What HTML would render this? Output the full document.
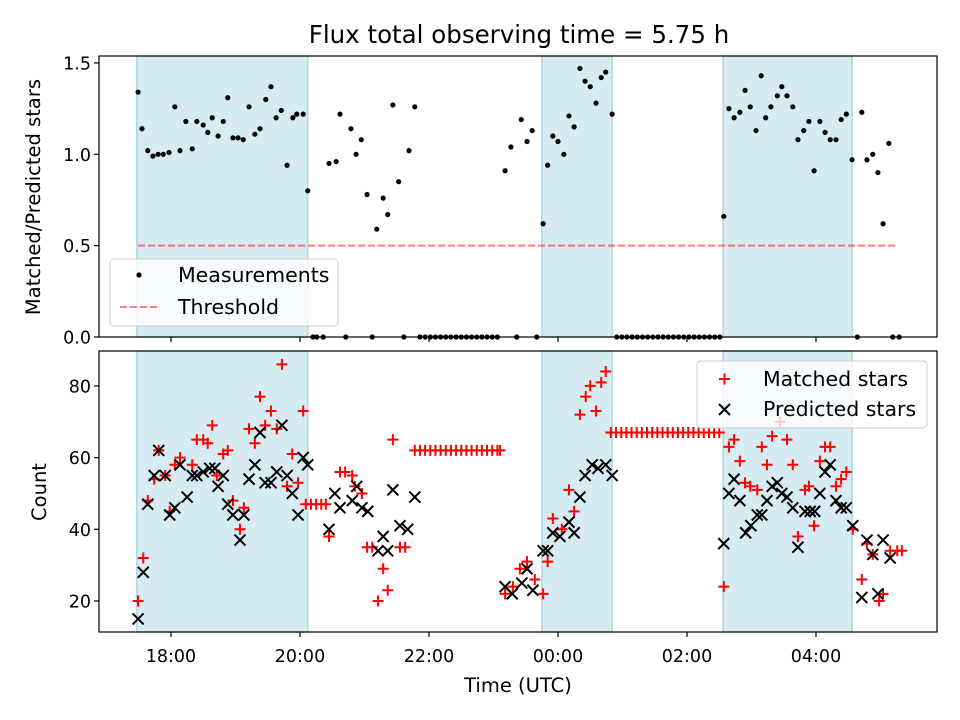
<!DOCTYPE html>
<html><head><meta charset="utf-8"><style>
html,body{margin:0;padding:0;background:#fff;}
svg{display:block;font-family:"DejaVu Sans","Liberation Sans",sans-serif;}
</style></head><body>
<svg id="chart" width="960" height="720" viewBox="0 0 960 720" xmlns="http://www.w3.org/2000/svg">
<rect width="960" height="720" fill="#fff"/>
<text x="519" y="43" font-size="24.5" text-anchor="middle">Flux total observing time = 5.75 h</text>
<g id="topPanel"></g>
<g id="botPanel"></g>
<text transform="translate(40,197) rotate(-90)" font-size="19.5" text-anchor="middle">Matched/Predicted stars</text>
<text transform="translate(46,492) rotate(-90)" font-size="19.5" text-anchor="middle">Count</text>
<text x="518" y="692" font-size="19.5" text-anchor="middle">Time (UTC)</text>
</svg>
<script>
// ---- data (times in hours since 00:00 of first day) ----
const shadeStart = [17.47, 23.75, 26.56];
const shadeEnd = [20.12, 24.84, 28.56];
const measTimes = [17.49,17.55,17.64,17.72,17.80,17.88,17.97,18.06,18.14,18.23,18.33,18.40,18.50,18.57,18.64,18.73,18.81,18.88,18.96,19.04,19.12,19.21,19.30,19.38,19.47,19.55,19.63,19.71,19.80,19.89,19.95,20.05,20.12,
20.45,20.56,20.62,20.79,20.87,20.95,21.04,21.19,21.29,21.36,21.44,21.53,21.69,21.78,
23.18,23.27,23.43,23.52,23.60,23.77,23.84,23.92,24.00,24.09,24.17,24.25,24.34,24.42,24.50,24.59,24.67,24.74,24.84,
26.57,26.65,26.73,26.82,26.90,26.98,27.07,27.15,27.22,27.30,27.40,27.47,27.55,27.64,27.72,27.81,27.89,27.97,28.06,28.14,28.22,28.31,28.39,28.47,28.56,28.71,28.79,28.88,28.96,29.04,29.13];
const measValues = [1.34,1.14,1.02,0.99,1.00,1.00,1.01,1.26,1.02,1.18,1.03,1.18,1.16,1.12,1.20,1.10,1.18,1.31,1.09,1.09,1.08,1.26,1.11,1.14,1.30,1.37,1.20,1.24,0.94,1.20,1.22,1.22,0.80,
0.95,0.96,1.22,1.14,1.00,1.08,0.78,0.59,0.76,0.67,1.27,0.85,1.02,1.26,
0.91,1.04,1.19,1.07,1.13,0.62,0.94,1.10,1.07,1.00,1.21,1.15,1.47,1.40,1.37,1.28,1.42,1.45,1.22,
0.66,1.25,1.20,1.23,1.35,1.26,1.13,1.43,1.20,1.26,1.32,1.37,1.32,1.26,1.08,1.13,1.18,0.91,1.18,1.12,1.08,1.08,1.19,1.22,0.97,1.23,0.97,1.00,0.90,0.62,1.06];
const zeroTimes = [20.20,20.26,20.36,20.71,21.12,21.61,21.86,21.94,22.02,22.10,22.18,22.26,22.34,22.42,22.50,22.58,22.66,22.74,22.82,22.90,22.98,23.06,23.36,23.67,
24.91,24.99,25.07,25.15,25.23,25.31,25.39,25.47,25.55,25.63,25.71,25.79,25.87,25.95,26.03,26.11,26.19,26.27,26.35,26.43,26.51,28.64,29.19,29.29];
const threshold = 0.5;
const thresholdSpan = [17.49, 29.24];
const matchedTimes = [17.49,17.57,17.64,17.74,17.81,17.91,17.98,18.06,18.14,18.33,18.40,18.50,18.57,18.64,18.71,18.81,18.88,18.96,19.07,19.13,19.21,19.30,19.38,19.46,19.55,19.64,19.72,19.80,19.88,19.97,20.05,20.09,20.17,20.25,20.33,20.40,20.45,20.62,20.70,20.81,20.85,20.96,21.04,21.12,21.21,21.29,21.36,21.44,21.55,21.63,
21.78,21.86,21.94,22.02,22.10,22.18,22.26,22.34,22.42,22.50,22.58,22.66,22.74,22.82,22.90,22.98,23.06,23.10,
23.18,23.30,23.41,23.52,23.64,23.77,23.84,23.92,24.06,24.17,24.25,24.34,24.43,24.50,24.59,24.67,24.74,
24.82,24.90,24.98,25.06,25.14,25.22,25.30,25.38,25.46,25.54,25.62,25.70,25.78,25.86,25.94,26.02,26.10,26.18,26.26,26.34,26.42,26.50,
26.57,26.65,26.73,26.82,26.90,26.98,27.09,27.16,27.24,27.32,27.44,27.55,27.64,27.72,27.83,27.89,27.97,28.06,28.14,28.22,28.31,28.39,28.47,28.57,28.71,28.79,28.88,28.98,29.04,29.15,29.26,29.33];
const matchedCounts = [20,32,48,54,62,55,45,58,60,58,65,65,64,69,55,61,62,48,40,46,68,64,77,69,73,68,86,52,61,53,73,47,47,47,47,47,38,56,56,55,52,50,35,35,20,29,23,65,35,35,
62,62,62,62,62,62,62,62,62,62,62,62,62,62,62,62,62,62,
22,24,29,31,26,22,31,43,40,51,45,72,77,80,73,81,84,
67,67,67,67,67,67,67,67,67,67,67,67,67,67,67,67,67,67,67,67,67,67,
24,63,65,59,53,52,51,63,58,66,70,65,58,38,51,52,41,59,63,63,52,54,56,40,26,36,33,20,22,34,34,34];
const predTimes = [17.49,17.57,17.64,17.74,17.81,17.91,17.98,18.06,18.14,18.25,18.33,18.40,18.50,18.60,18.68,18.73,18.81,18.88,18.96,19.07,19.13,19.21,19.30,19.38,19.46,19.55,19.64,19.72,19.80,19.88,19.97,20.05,20.12,
20.45,20.54,20.62,20.81,20.88,20.96,21.05,21.21,21.29,21.36,21.44,21.55,21.67,21.78,
23.18,23.29,23.44,23.52,23.61,23.77,23.84,23.92,24.03,24.17,24.25,24.34,24.42,24.53,24.62,24.74,24.84,
26.57,26.65,26.73,26.82,26.91,26.99,27.09,27.16,27.24,27.32,27.40,27.47,27.55,27.64,27.72,27.83,27.91,27.98,28.06,28.14,28.22,28.31,28.39,28.47,28.57,28.71,28.79,28.88,28.96,29.04,29.15];
const predCounts = [15,28,47,55,62,55,44,46,58,49,55,55,56,57,57,52,55,47,44,37,44,54,58,67,53,53,56,69,55,50,44,60,58,
40,50,46,48,52,46,45,34,38,34,51,41,40,49,
24,22,25,29,23,34,34,39,38,42,39,49,55,58,57,58,55,
36,50,54,48,39,41,44,44,48,52,53,50,49,46,35,45,45,45,50,56,58,48,46,46,41,21,37,33,22,37,32];
const xTickValues = [18,20,22,24,26,28];
const xTickLabels = ["18:00","20:00","22:00","00:00","02:00","04:00"];
const topTicks = [0,0.5,1.0,1.5];
const topTickLabels = ["0.0","0.5","1.0","1.5"];
const botTicks = [20,40,60,80];

(function(){
const L=99,R=937;
const X0=16.884,X1=29.876;
const xS=h=>L+(h-X0)/(X1-X0)*(R-L);
const TT=56,TB=337; const yT=v=>TB-v*182.7;
const BT=351,BB=632; const yB=c=>601-(c-20)*3.585;
const FS=17.5, LFS=20.5;
const NS="http://www.w3.org/2000/svg";
function mk(parent,tag,attrs){const e=document.createElementNS(NS,tag);for(const k in attrs)e.setAttribute(k,attrs[k]);parent.appendChild(e);return e;}
const topG=document.getElementById('topPanel'), botG=document.getElementById('botPanel');

function panel(g,yt,yb,pname){
  for(let i=0;i<shadeStart.length;i++){
    const r=mk(g,'rect',{x:xS(shadeStart[i]),y:yt,width:xS(shadeEnd[i])-xS(shadeStart[i]),height:yb-yt,fill:'#add8e6','fill-opacity':0.5,stroke:'#add8e6','stroke-width':1.5});
    
    
  }
}
panel(topG,TT,TB,'top');
panel(botG,BT,BB,'bottom');

const th=mk(topG,'line',{x1:xS(thresholdSpan[0]),x2:xS(thresholdSpan[1]),y1:yT(threshold),y2:yT(threshold),stroke:'#ff0000','stroke-opacity':0.5,'stroke-width':2,'stroke-dasharray':'7,3'});



const nM=Math.min(measTimes.length,measValues.length);
for(let i=0;i<nM;i++){
  const c=mk(topG,'circle',{cx:xS(measTimes[i]),cy:yT(measValues[i]),r:2.6,fill:'#000'});
  
  
}
zeroTimes.forEach(t=>{
  const c=mk(topG,'circle',{cx:xS(t),cy:yT(0),r:2.6,fill:'#000'});
  
  
});

const nMa=Math.min(matchedTimes.length,matchedCounts.length);
for(let i=0;i<nMa;i++){
  const x=xS(matchedTimes[i]),y=yB(matchedCounts[i]),s=5.5;
  const p=mk(botG,'path',{d:`M${x-s},${y}H${x+s}M${x},${y-s}V${y+s}`,stroke:'#ff0000','stroke-width':2,fill:'none'});
  
  
}
const nP=Math.min(predTimes.length,predCounts.length);
for(let i=0;i<nP;i++){
  const x=xS(predTimes[i]),y=yB(predCounts[i]),s=5.5;
  const p=mk(botG,'path',{d:`M${x-s},${y-s}L${x+s},${y+s}M${x-s},${y+s}L${x+s},${y-s}`,stroke:'#000','stroke-width':2,fill:'none'});
  
  
}

function frame(g,yt,yb,pname){
  const f=mk(g,'rect',{x:L,y:yt,width:R-L,height:yb-yt,fill:'none',stroke:'#000','stroke-width':1.2});
  
  
  xTickValues.forEach(v=>{
    const tk=mk(g,'line',{x1:xS(v),x2:xS(v),y1:yb,y2:yb+5,stroke:'#000','stroke-width':1.2});
    
    
  });
}
frame(topG,TT,TB,'top');
frame(botG,BT,BB,'bottom');
xTickValues.forEach((v,i)=>{
  const t=mk(botG,'text',{x:xS(v),y:BB+30,'font-size':FS,'text-anchor':'middle'});
  t.textContent=xTickLabels[i];
  
  
});
topTicks.forEach((v,i)=>{
  const tk=mk(topG,'line',{x1:L-5,x2:L,y1:yT(v),y2:yT(v),stroke:'#000','stroke-width':1.2});
  
  
  const t=mk(topG,'text',{x:L-8,y:yT(v)+6.5,'font-size':FS,'text-anchor':'end'});
  t.textContent=topTickLabels[i];
  
  
});
botTicks.forEach(v=>{
  const tk=mk(botG,'line',{x1:L-5,x2:L,y1:yB(v),y2:yB(v),stroke:'#000','stroke-width':1.2});
  
  
  const t=mk(botG,'text',{x:L-8,y:yB(v)+6.5,'font-size':FS,'text-anchor':'end'});
  t.textContent=String(v);
  
  
});

function legendBox(g,x,y,w,h,name){
  const r=mk(g,'rect',{x:x,y:y,width:w,height:h,rx:4,fill:'#fff','fill-opacity':0.8,stroke:'#ccc','stroke-width':1});
  
  
}
legendBox(topG,110,259,228,67,'top-legend');
const ld=mk(topG,'circle',{cx:139,cy:275,r:2.6,fill:'#000'});


const lt1=mk(topG,'text',{x:178,y:282,'font-size':LFS});
lt1.textContent='Measurements';


const ll=mk(topG,'line',{x1:120,x2:158,y1:307,y2:307,stroke:'#ff0000','stroke-opacity':0.5,'stroke-width':2,'stroke-dasharray':'7,3'});


const lt2=mk(topG,'text',{x:178,y:314,'font-size':LFS});
lt2.textContent='Threshold';



legendBox(botG,697,361,230,67,'bottom-legend');
const lm=mk(botG,'path',{d:'M719,379H730M724.5,373.5V384.5',stroke:'#ff0000','stroke-width':2});


const lt3=mk(botG,'text',{x:763,y:386,'font-size':LFS});
lt3.textContent='Matched stars';


const lp=mk(botG,'path',{d:'M719,404L730,415M719,415L730,404',stroke:'#000','stroke-width':2});


const lt4=mk(botG,'text',{x:763,y:416,'font-size':LFS});
lt4.textContent='Predicted stars';


})();
</script>
</body></html>
